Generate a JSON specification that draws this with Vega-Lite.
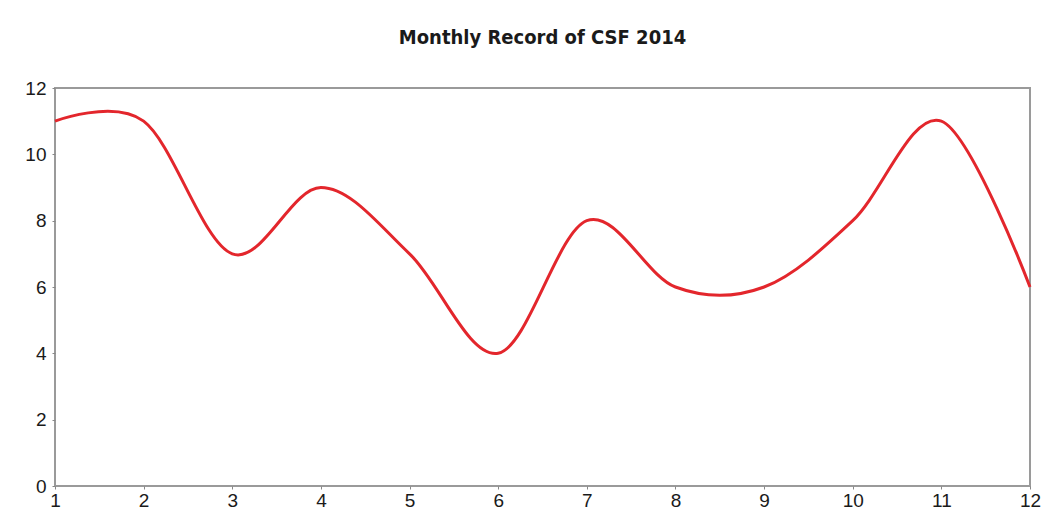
{
  "$schema": "https://vega.github.io/schema/vega-lite/v6.json",
  "autosize": {"type": "none"},
  "width": 975,
  "height": 398,
  "padding": {"left": 55, "top": 88, "right": 14, "bottom": 33},
  "background": "white",
  "title": {
    "text": "Monthly Record of CSF 2014",
    "font": "DejaVu Sans Condensed, Roboto, sans-serif",
    "fontSize": 20,
    "fontWeight": "bold",
    "color": "#1a1a1a",
    "anchor": "middle",
    "offset": 31
  },
  "data": {
    "values": [
      {"month": 1, "value": 11},
      {"month": 2, "value": 11},
      {"month": 3, "value": 7},
      {"month": 4, "value": 9},
      {"month": 5, "value": 7},
      {"month": 6, "value": 4},
      {"month": 7, "value": 8},
      {"month": 8, "value": 6},
      {"month": 9, "value": 6},
      {"month": 10, "value": 8},
      {"month": 11, "value": 11},
      {"month": 12, "value": 6}
    ]
  },
  "mark": {"type": "line", "interpolate": "cardinal", "color": "#e3262c", "strokeWidth": 3},
  "encoding": {
    "x": {
      "field": "month",
      "type": "quantitative",
      "scale": {"domain": [1, 12], "nice": false, "zero": false},
      "axis": {
        "title": null,
        "values": [1,2,3,4,5,6,7,8,9,10,11,12],
        "grid": false,
        "domain": false,
        "tickColor": "#888888",
        "tickSize": 3,
        "labelFont": "Liberation Sans",
        "labelFontSize": 19,
        "labelColor": "#1a1a1a",
        "labelPadding": 2,
        "labelFlush": false
      }
    },
    "y": {
      "field": "value",
      "type": "quantitative",
      "scale": {"domain": [0, 12], "nice": false},
      "axis": {
        "title": null,
        "values": [0,2,4,6,8,10,12],
        "grid": false,
        "domain": false,
        "tickColor": "#888888",
        "tickSize": 3,
        "labelFont": "Liberation Sans",
        "labelFontSize": 19,
        "labelColor": "#1a1a1a",
        "labelPadding": 6
      }
    }
  },
  "config": {
    "view": {"stroke": "#9a9a9a", "strokeWidth": 2}
  }
}
